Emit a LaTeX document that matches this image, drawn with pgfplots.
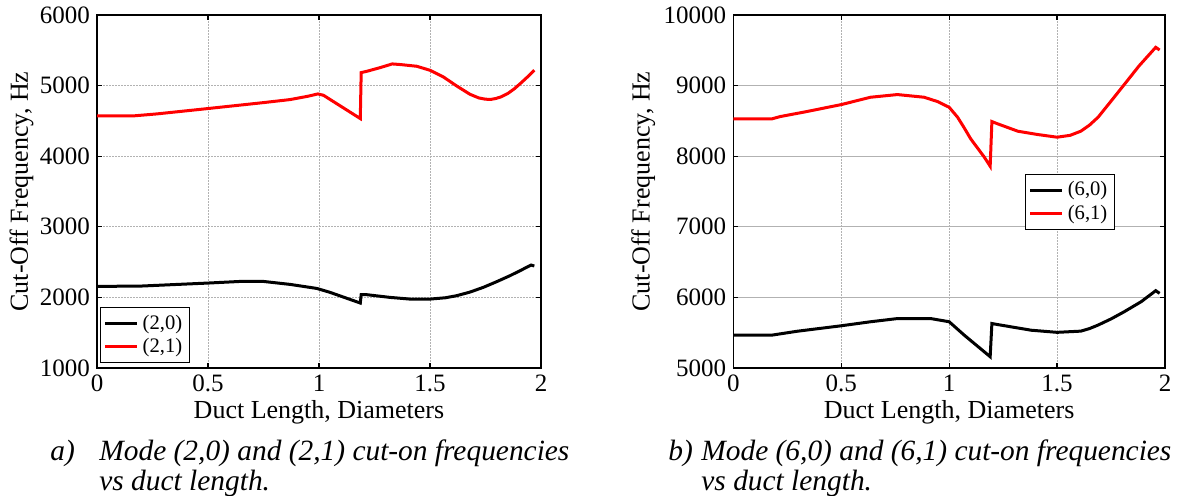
\documentclass[border=0pt]{standalone}
\usepackage{fontspec}
\setmainfont{Liberation Serif}
\usepackage{pgfplots}
\pgfplotsset{compat=1.18}

\pgfplotsset{
 mystyle/.style={
  scale only axis,
  xmin=0, xmax=2, xtick={0,0.5,1,1.5,2},
  grid=major, grid style={gray!60, line width=0.45pt, dash pattern=on 1.2pt off 0.3pt},
  axis line style={line width=0.8pt},
  tick style={black, line width=0.6pt},
  major tick length=2.5pt,
  tick align=inside,
  tick label style={font=\fontsize{12.5}{14}\selectfont},
  label style={font=\fontsize{13}{15}\selectfont},
  /pgf/number format/assume math mode=true,
  /pgf/number format/set thousands separator={},
  scaled y ticks=false,
  xticklabel style={/pgf/number format/fixed},
  xlabel={Duct Length, Diameters},
  ylabel={Cut-Off Frequency, Hz},
  legend cell align=left,
  legend style={font=\fontsize{10.3}{12}\selectfont, draw=black, line width=0.6pt, inner sep=1.5pt, row sep=-1pt},
  legend image code/.code={\draw[#1, line width=1.5pt] (0pt,0pt) -- (16pt,0pt);},
 }
}

\begin{document}
\begin{tikzpicture}
\path[use as bounding box] (0,0) rectangle (599pt,248pt);

\begin{axis}[mystyle,
  at={(48.5pt,64pt)}, anchor=south west,
  width=222pt, height=176.5pt,
  ymin=1000, ymax=6000, ytick={1000,2000,...,6000},
  xlabel style={at={(axis description cs:0.5,-0.125)}, anchor=center},
  ylabel style={at={(axis description cs:-0.170,0.5)}, anchor=center},
  legend style={at={(axis description cs:0.007,0.014)}, anchor=south west},
]
\addplot[black, line width=1.5pt] coordinates {
(0,2156) (0.195,2160) (0.35,2182) (0.5,2203) (0.645,2226) (0.75,2226) (0.87,2184) (0.99,2127) (1.05,2071) (1.186,1920) (1.19,2038) (1.216,2038) (1.32,2000) (1.41,1976) (1.5,1976) (1.57,1995) (1.62,2024) (1.68,2075) (1.74,2142) (1.80,2222) (1.86,2307) (1.91,2385) (1.955,2458) (1.97,2445)
};
\addlegendentry{(2,0)}
\addplot[red, line width=1.5pt] coordinates {
(0,4571) (0.165,4571) (0.27,4599) (0.5,4675) (0.75,4759) (0.87,4802) (0.95,4849) (0.995,4882) (1.02,4863) (1.186,4533) (1.19,5184) (1.216,5203) (1.276,5255) (1.33,5307) (1.37,5297) (1.44,5274) (1.5,5217) (1.56,5123) (1.62,4995) (1.68,4877) (1.72,4825) (1.75,4807) (1.775,4805) (1.795,4816) (1.82,4840) (1.85,4887) (1.88,4955) (1.91,5038) (1.94,5125) (1.97,5217)
};
\addlegendentry{(2,1)}
\end{axis}

\begin{axis}[mystyle,
  at={(366.65pt,64pt)}, anchor=south west,
  width=215.85pt, height=176.5pt,
  ymin=5000, ymax=10000, ytick={5000,6000,...,10000},
  xlabel style={at={(axis description cs:0.5,-0.125)}, anchor=center},
  ylabel style={at={(axis description cs:-0.2085,0.5)}, anchor=center},
  legend style={at={(axis description cs:0.884,0.5496)}, anchor=north east},
]
\addplot[black, line width=1.5pt] coordinates {
(0,5465) (0.178,5465) (0.295,5520) (0.5,5598) (0.636,5655) (0.76,5700) (0.915,5700) (1.0,5655) (1.07,5465) (1.19,5160) (1.198,5630) (1.225,5615) (1.38,5535) (1.5,5505) (1.61,5522) (1.65,5558) (1.69,5608) (1.75,5695) (1.81,5795) (1.89,5940) (1.957,6095) (1.975,6057)
};
\addlegendentry{(6,0)}
\addplot[red, line width=1.5pt] coordinates {
(0,8528) (0.178,8528) (0.217,8561) (0.34,8632) (0.5,8731) (0.636,8835) (0.76,8873) (0.884,8835) (0.946,8774) (1.0,8693) (1.039,8552) (1.07,8400) (1.1,8245) (1.163,7986) (1.19,7858) (1.198,8491) (1.225,8458) (1.318,8354) (1.41,8307) (1.5,8269) (1.56,8295) (1.61,8354) (1.65,8440) (1.69,8552) (1.75,8780) (1.81,9010) (1.88,9280) (1.957,9542) (1.975,9504)
};
\addlegendentry{(6,1)}
\end{axis}

\begin{scope}[every node/.style={inner sep=0pt, anchor=base west, font=\fontsize{14.7}{17}\selectfont\itshape}]
\node at (25pt,17.5pt) {a)};
\node at (49.5pt,17.5pt) {Mode (2,0) and (2,1) cut-on frequencies};
\node at (49.5pt,2.5pt) {vs duct length.};
\node at (334pt,17.5pt) {b)};
\node at (350.5pt,17.5pt) {Mode (6,0) and (6,1) cut-on frequencies};
\node at (350.5pt,2.5pt) {vs duct length.};
\end{scope}
\end{tikzpicture}
\end{document}
